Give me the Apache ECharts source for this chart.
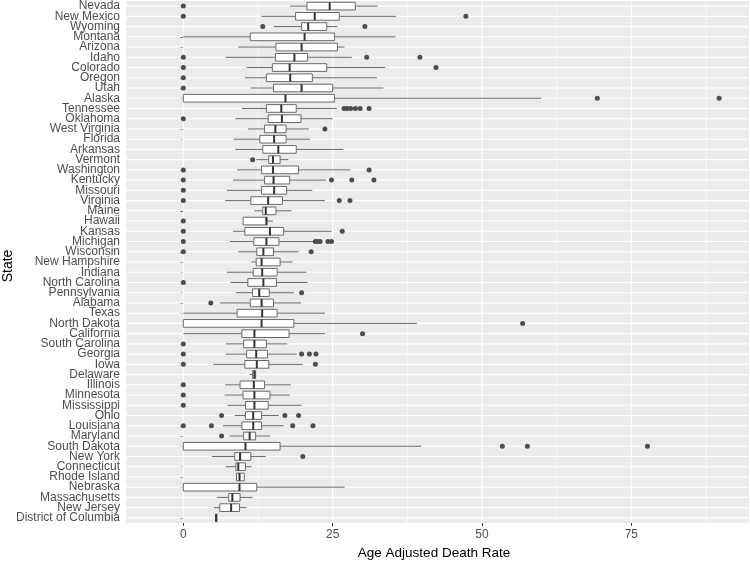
<!DOCTYPE html>
<html>
<head>
<meta charset="utf-8">
<script src="https://cdn.jsdelivr.net/npm/echarts@6/dist/echarts.min.js"></script>
<style>
html,body{margin:0;padding:0;background:#fff;}
#chart{width:750px;height:564px;}
</style>
</head>
<body>
<div id="chart"></div>
<script>
// ---- data (top to bottom as displayed) ----
const states = ["Nevada","New Mexico","Wyoming","Montana","Arizona","Idaho","Colorado","Oregon","Utah","Alaska",
"Tennessee","Oklahoma","West Virginia","Florida","Arkansas","Vermont","Washington","Kentucky","Missouri","Virginia",
"Maine","Hawaii","Kansas","Michigan","Wisconsin","New Hampshire","Indiana","North Carolina","Pennsylvania","Alabama",
"Texas","North Dakota","California","South Carolina","Georgia","Iowa","Delaware","Illinois","Minnesota","Mississippi",
"Ohio","Louisiana","Maryland","South Dakota","New York","Connecticut","Rhode Island","Nebraska","Massachusetts","New Jersey",
"District of Columbia"];

const whiskerLow = [17.9,13.1,15.1,0,9.2,7.1,10.6,10.3,11.2,0,
9.8,8.7,10.8,8.4,8.7,12.2,9.0,8.3,7.3,7.0,
11.9,10.0,8.3,7.8,9.2,11.4,7.3,7.9,8.8,6.1,
0,0,0,7.1,7.1,5.0,11.1,7.0,6.9,7.4,
8.6,6.6,7.7,0,4.8,7.1,8.8,0,5.6,5.1,
5.4];
const q1 = [20.7,18.8,19.8,11.2,15.5,15.4,14.9,13.9,15.1,0,
13.9,14.2,13.6,12.8,13.3,14.3,13.1,13.6,13.1,11.3,
13.3,10.0,10.3,11.8,12.3,12.2,11.7,10.8,11.6,11.2,
9.0,0,9.8,10.1,10.6,10.3,11.6,9.5,10.0,10.4,
10.4,9.8,10.1,0,8.6,8.8,8.9,0,7.6,6.1,
5.4];
const median = [24.5,22.0,20.9,20.3,19.8,18.6,17.8,17.9,19.8,17.1,
16.4,16.5,15.4,15.2,15.9,15.0,15.0,15.1,15.2,14.2,
13.8,13.9,14.5,13.9,13.4,13.1,13.2,13.4,12.7,13.1,
13.2,13.1,11.9,11.9,12.2,12.3,11.9,11.8,11.9,11.9,
11.7,11.7,11.1,10.4,9.5,9.2,9.4,9.4,8.2,8.0,
5.5];
const q3 = [28.8,26.1,24.0,25.3,25.8,20.8,24.0,21.6,25.0,25.3,
18.9,19.7,17.2,17.2,18.9,16.2,19.3,17.8,17.3,16.6,
15.5,14.0,16.8,16.0,15.1,16.2,15.7,15.6,14.4,15.1,
15.7,18.5,17.7,13.9,14.1,14.3,12.1,13.6,14.5,14.2,
13.1,13.1,12.1,16.2,11.3,10.4,10.2,12.3,9.5,9.4,
5.6];
const whiskerHigh = [32.5,35.6,25.8,35.5,27.0,28.2,33.8,32.4,33.5,59.9,
25.7,25.0,21.0,21.2,26.8,17.6,28.0,23.9,21.6,23.7,
18.1,15.0,24.8,21.8,19.3,18.3,20.6,20.8,18.5,19.7,
23.7,39.1,23.7,17.4,19.0,20.0,12.2,18.0,17.8,19.8,
16.0,16.8,14.5,39.8,13.8,11.4,10.3,27.0,11.6,10.6,
5.6];
const outliers = [[0],[0,47.3],[13.3,30.4],[],[],[0,30.7,39.6],[0,42.3],[0],[0],[69.3,89.7],
[26.9,27.4,28.0,28.8,29.6,31.1],[0],[23.7],[],[],[11.6],[0,31.1],[0,24.8,28.2,31.9],[0],[0,26.1,27.9],
[],[0],[0,26.6],[0,22.1,22.5,22.9,24.2,24.8],[0,21.4],[],[],[0],[19.8],[4.6],
[],[56.8],[30.0],[0],[0,19.8,21.1,22.2],[0,22.1],[],[0],[0],[0],
[6.4,17.0,19.3],[0,4.7,18.3,21.7],[6.4],[53.4,57.6,77.7],[20.0],[],[],[],[],[],
[]];

const xTicks = [0,25,50,75];
const xMinorTicks = [12.5,37.5,62.5,87.5];

// ---- build series data ----
const boxData = states.map((s,i)=>[i, whiskerLow[i], q1[i], median[i], q3[i], whiskerHigh[i]]);
const outlierData = [];
states.forEach((s,i)=>outliers[i].forEach(v=>outlierData.push([v, i])));

// grid lines: [kind, value]  kind 0 = vertical major, 1 = vertical minor, 2 = horizontal (category index)
const gridData = [];
xTicks.forEach(v=>gridData.push([0, v]));
xMinorTicks.forEach(v=>gridData.push([1, v]));
states.forEach((s,i)=>gridData.push([2, i]));

function renderGrid(params, api){
  const kind = api.value(0), v = api.value(1);
  const cs = params.coordSys;
  if (kind === 2) {
    const y = api.coord([0, v])[1];
    return {type:'line', shape:{x1:cs.x, y1:y, x2:cs.x+cs.width, y2:y}, style:{stroke:'#ffffff', lineWidth:1.1}};
  }
  const x = api.coord([v, 0])[0];
  return {type:'line', shape:{x1:x, y1:cs.y, x2:x, y2:cs.y+cs.height}, style:{stroke:'#ffffff', lineWidth: kind===0 ? 1.1 : 0.6}};
}

const LINE = '#6a6a6a';
function renderBox(params, api){
  const yi = api.value(0);
  const p = [1,2,3,4,5].map(d=>api.coord([api.value(d), yi]));
  const band = api.size([0,1])[1];
  const h = band*0.75;
  const y = p[0][1];
  return {type:'group', children:[
    {type:'line', shape:{x1:p[0][0], y1:y, x2:p[1][0], y2:y}, style:{stroke:LINE, lineWidth:1}},
    {type:'line', shape:{x1:p[3][0], y1:y, x2:p[4][0], y2:y}, style:{stroke:LINE, lineWidth:1}},
    {type:'rect', shape:{x:p[1][0], y:y-h/2, width:Math.max(p[3][0]-p[1][0],0.5), height:h}, style:{fill:'#ffffff', stroke:LINE, lineWidth:1}},
    {type:'line', shape:{x1:p[2][0], y1:y-h/2, x2:p[2][0], y2:y+h/2}, style:{stroke:'#333333', lineWidth:2}}
  ]};
}

const FONT = "'Liberation Sans', Arial, sans-serif";
const chart = echarts.init(document.getElementById('chart'), null, {renderer:'canvas'});
chart.setOption({
  animation:false,
  backgroundColor:'#ffffff',
  grid:{left:126, right:1, top:1, bottom:41, show:true, backgroundColor:'#EBEBEB', borderWidth:0},
  xAxis:{
    type:'value', min:-9.6, max:94.7,
    axisLine:{show:false},
    splitLine:{show:false},
    axisTick:{show:true, length:3, customValues:xTicks, lineStyle:{color:'#333333', width:1}},
    axisLabel:{customValues:xTicks, color:'#4D4D4D', fontSize:12, fontFamily:FONT, margin:6}
  },
  yAxis:{
    type:'category', data:states, inverse:true,
    axisLine:{show:false},
    splitLine:{show:false},
    axisTick:{show:true, alignWithLabel:true, length:3, interval:0, lineStyle:{color:'#333333', width:1}},
    axisLabel:{interval:0, color:'#4D4D4D', fontSize:12, fontFamily:FONT, margin:6}
  },
  graphic:[
    {type:'text', x:8, y:266, rotation:Math.PI/2, style:{text:'State', fill:'#000', font:"14px 'Liberation Sans', Arial, sans-serif", textAlign:'center', textVerticalAlign:'middle'}},
    {type:'text', x:434, y:553, style:{text:'Age Adjusted Death Rate', fill:'#000', font:"13.5px 'Liberation Sans', Arial, sans-serif", textAlign:'center', textVerticalAlign:'middle'}}
  ],
  series:[
    {type:'custom', z:1, silent:true, renderItem:renderGrid, data:gridData, encode:{x:-1, y:-1}},
    {type:'custom', z:2, renderItem:renderBox, data:boxData, encode:{x:[1,2,3,4,5], y:0}},
    {type:'scatter', z:3, symbol:'circle', symbolSize:5, itemStyle:{color:'#4D4D4D', opacity:1}, data:outlierData}
  ]
});
</script>
</body>
</html>
